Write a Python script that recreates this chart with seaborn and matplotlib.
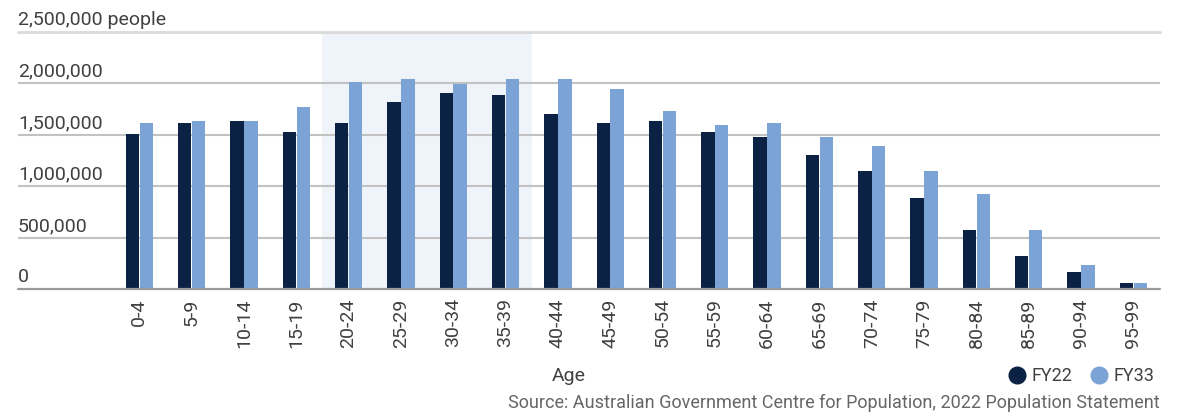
import pandas as pd
import matplotlib.pyplot as plt
from matplotlib.lines import Line2D
import seaborn as sns

sns.set_style("white")
plt.rcParams['font.family'] = ['Roboto', 'DejaVu Sans']

ages = ['0-4', '5-9', '10-14', '15-19', '20-24', '25-29', '30-34', '35-39', '40-44', '45-49',
        '50-54', '55-59', '60-64', '65-69', '70-74', '75-79', '80-84', '85-89', '90-94', '95-99']
fy22 = [1508000, 1615000, 1634000, 1527000, 1615000, 1819000, 1906000, 1887000, 1702000, 1615000,
        1634000, 1527000, 1479000, 1304000, 1149000, 887000, 576000, 323000, 168000, 61000]
fy33 = [1615000, 1634000, 1634000, 1770000, 2013000, 2042000, 1993000, 2042000, 2042000, 1945000,
        1731000, 1595000, 1615000, 1479000, 1391000, 1149000, 925000, 576000, 236000, 61000]
yticks = [0, 500000, 1000000, 1500000, 2000000, 2500000]
series = ['FY22', 'FY33']
colors = ['#0B2244', '#7BA3D6']

df = pd.DataFrame({
    'age': ages * 2,
    'people': fy22 + fy33,
    'year': ['FY22'] * len(ages) + ['FY33'] * len(ages),
})

fig = plt.figure(figsize=(11.77, 4.16), dpi=100)
ax = fig.add_axes([18 / 1177, 1 - 289.3 / 416, (1160 - 18) / 1177, (289.3 - 32) / 416])

# shaded band behind 20-24 .. 35-39
ax.axvspan(3.5, 7.5, color='#EFF3FA', zorder=0, lw=0)

sns.barplot(data=df, x='age', y='people', hue='year', palette=colors, hue_order=series,
            width=0.53, gap=0.03, saturation=1, legend=False, ax=ax, zorder=3, linewidth=0)

ax.set_xlim(-2.32, 19.51)
ax.set_ylim(0, 2500000)
ax.set_yticks(yticks)
ax.set_yticklabels([])
ax.tick_params(axis='y', length=0)
ax.tick_params(axis='x', length=0, pad=6.5, labelsize=14, labelcolor='#404040', labelrotation=90)
ax.set_xlabel('')
ax.set_ylabel('')

for v in yticks[1:-1]:
    ax.axhline(v, color='#c2c2c2', lw=1.5, zorder=1)
ax.axhline(2500000, color='#d9d9d9', lw=2, zorder=1, clip_on=False)
ax.axhline(0, color='#9a9a9a', lw=1.6, zorder=4, clip_on=False)

for v in yticks:
    lab = f'{v:,}' + (' people' if v == yticks[-1] else '')
    ax.annotate(lab, xy=(0, v), xycoords=ax.get_yaxis_transform(), xytext=(0, 5),
                textcoords='offset points', ha='left', va='baseline',
                fontsize=14, color='#404040')

for s in ax.spines.values():
    s.set_visible(False)

fig.text(569 / 1177, 1 - 376 / 416, 'Age', ha='center', va='center', fontsize=14, color='#404040')

handles = [Line2D([], [], marker='o', ls='', markersize=12, color=c) for c in colors]
fig.legend(handles, series, loc='center right', bbox_to_anchor=(1163 / 1177, 1 - 376 / 416),
           ncol=2, frameon=False, fontsize=13, handlelength=0.9, handletextpad=0.35,
           columnspacing=1.0, borderpad=0, labelcolor='#404040')

fig.text(1160 / 1177, 1 - 403 / 416,
         'Source: Australian Government Centre for Population, 2022 Population Statement',
         ha='right', va='center', fontsize=13, color='#666666')

fig.savefig('out.png', dpi=100)
